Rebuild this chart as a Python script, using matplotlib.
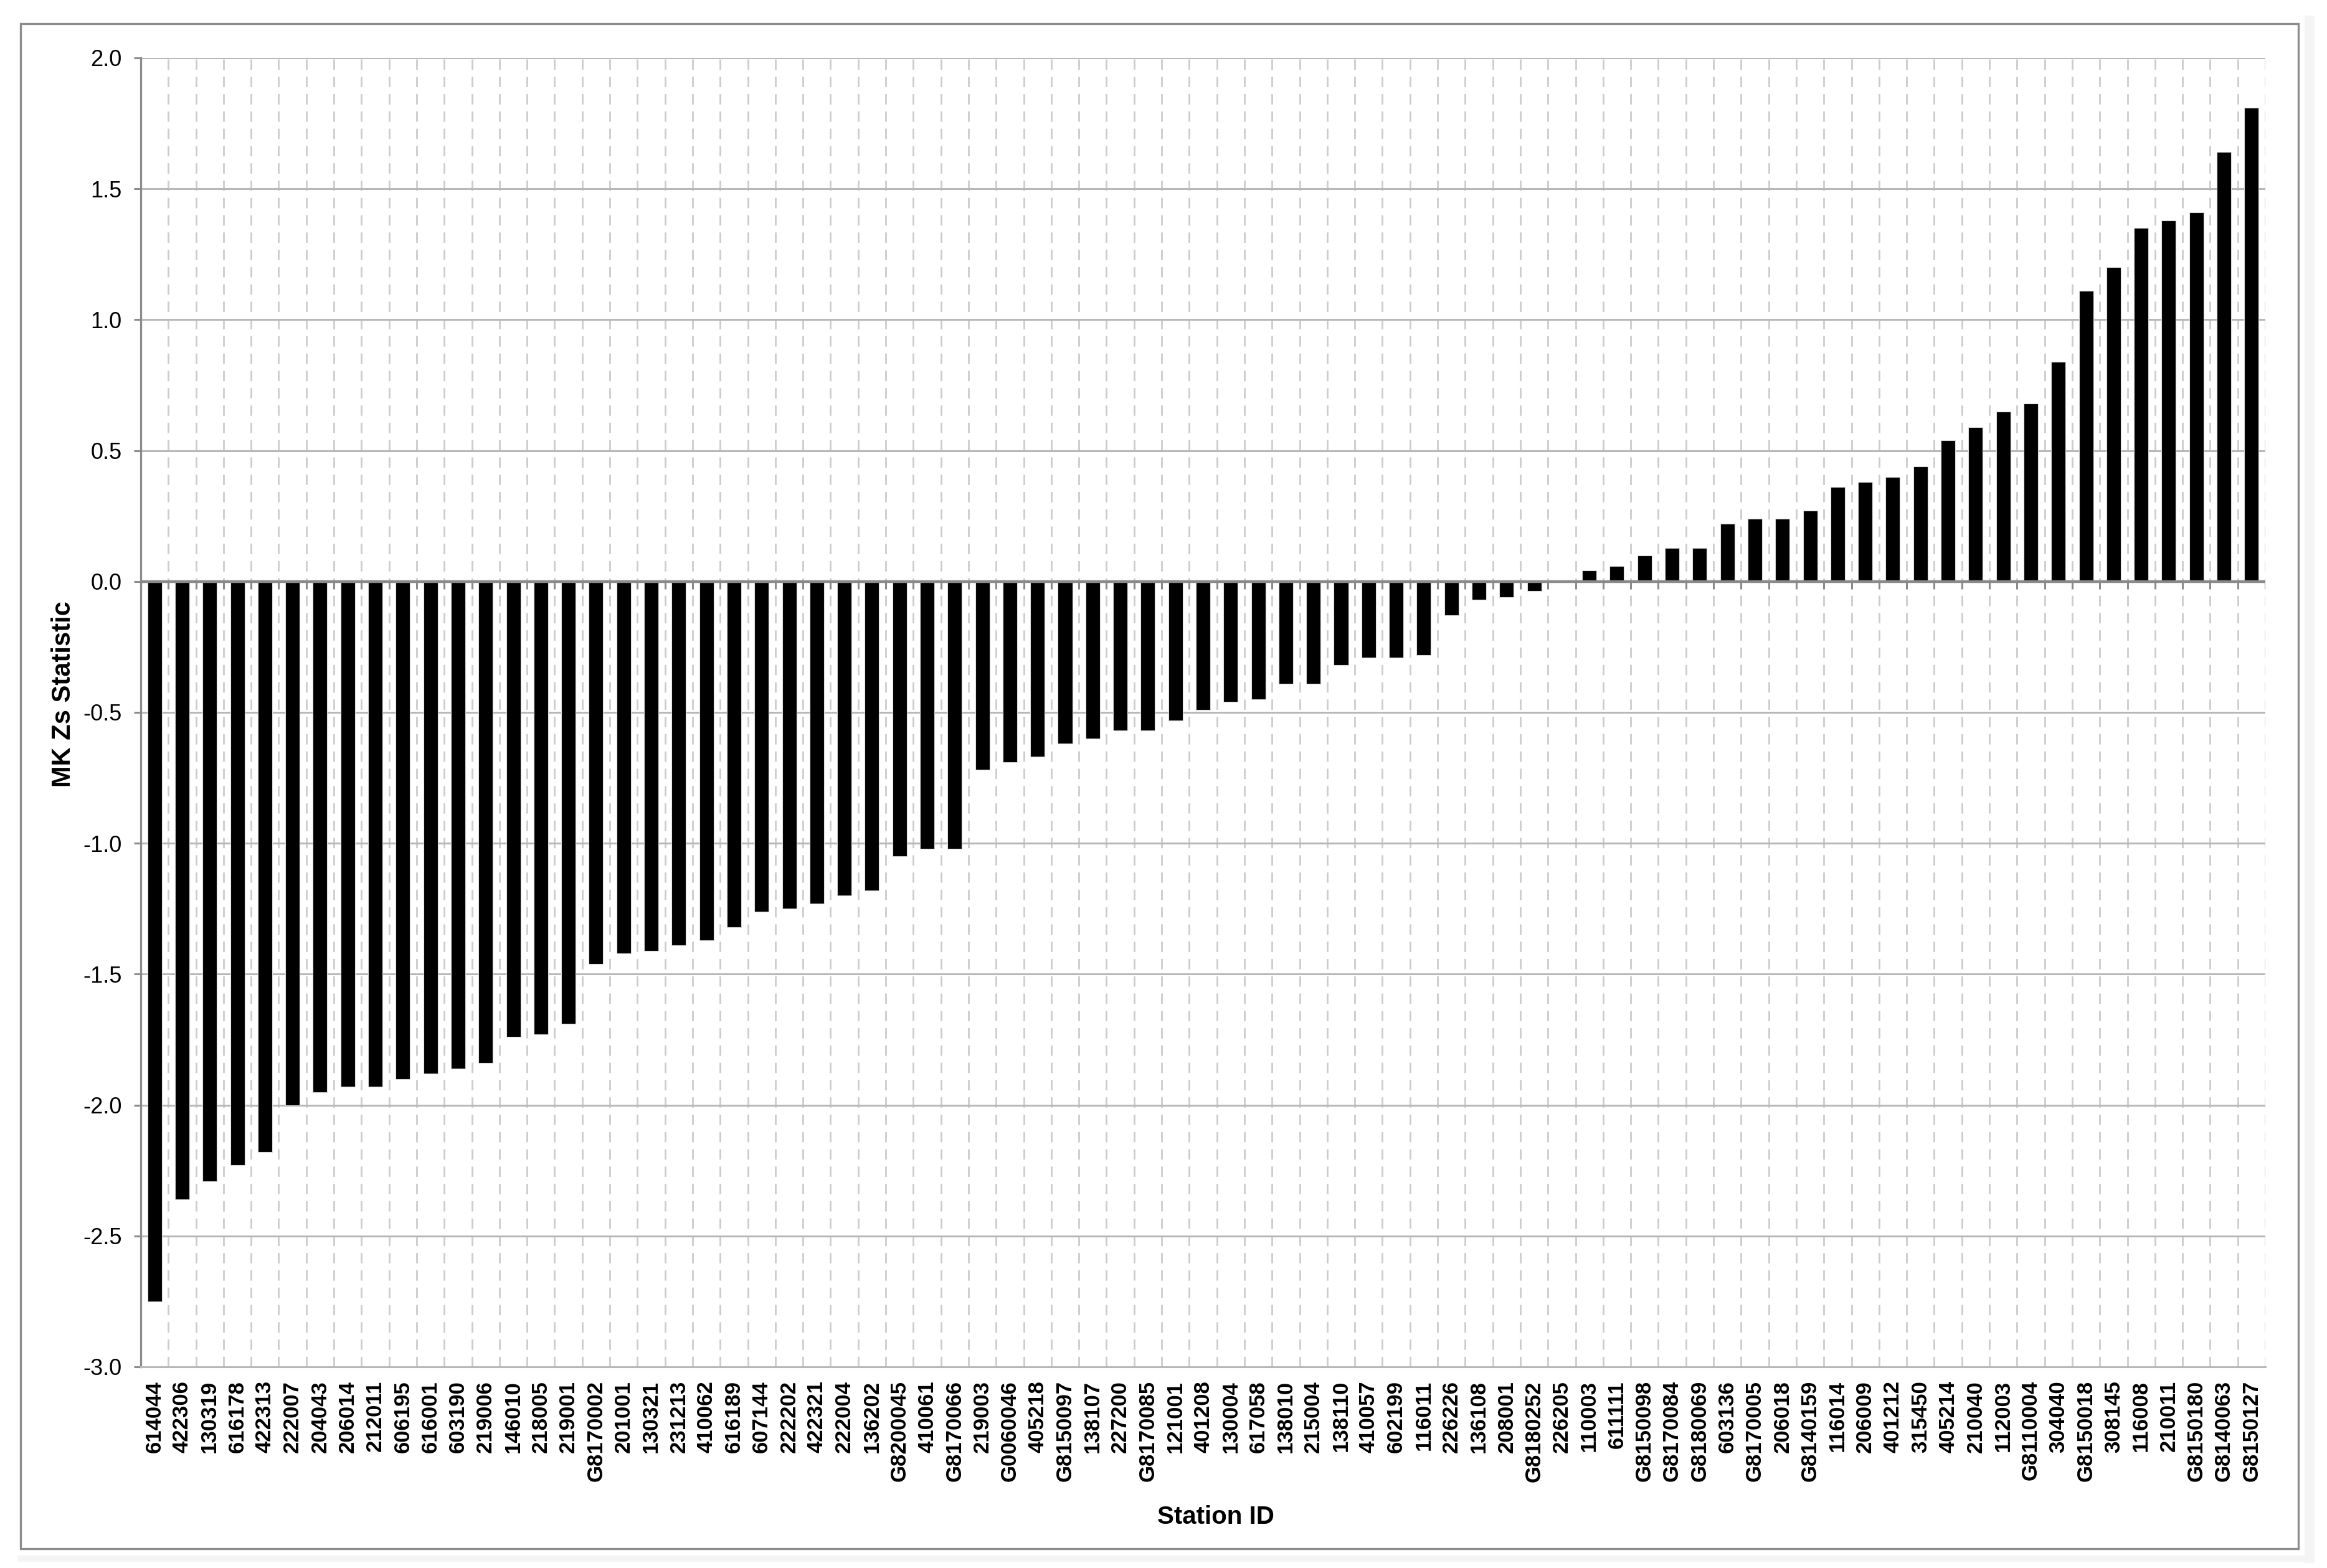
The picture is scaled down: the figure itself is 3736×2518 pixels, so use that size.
import numpy as np
import matplotlib
matplotlib.use("Agg")
import matplotlib.pyplot as plt
from matplotlib.patches import Rectangle

plt.rcParams["font.family"] = ["Liberation Sans", "DejaVu Sans"]

# station IDs, sorted by MK Zs statistic
stations = ["614044", "422306", "130319", "616178", "422313", "222007", "204043",
            "206014", "212011", "606195", "616001", "603190", "219006", "146010",
            "218005", "219001", "G8170002", "201001", "130321", "231213", "410062",
            "616189", "607144", "222202", "422321", "222004", "136202", "G8200045",
            "410061", "G8170066", "219003", "G0060046", "405218", "G8150097", "138107",
            "227200", "G8170085", "121001", "401208", "130004", "617058", "138010",
            "215004", "138110", "410057", "602199", "116011", "226226", "136108",
            "208001", "G8180252", "226205", "110003", "611111", "G8150098", "G8170084",
            "G8180069", "603136", "G8170005", "206018", "G8140159", "116014", "206009",
            "401212", "315450", "405214", "210040", "112003", "G8110004", "304040",
            "G8150018", "308145", "116008", "210011", "G8150180", "G8140063", "G8150127"]

zs = [-2.75, -2.36, -2.29, -2.23, -2.18, -2.00, -1.95,
      -1.93, -1.93, -1.90, -1.88, -1.86, -1.84, -1.74,
      -1.73, -1.69, -1.46, -1.42, -1.41, -1.39, -1.37,
      -1.32, -1.26, -1.25, -1.23, -1.20, -1.18, -1.05,
      -1.02, -1.02, -0.72, -0.69, -0.67, -0.62, -0.60,
      -0.57, -0.57, -0.53, -0.49, -0.46, -0.45, -0.39,
      -0.39, -0.32, -0.29, -0.29, -0.28, -0.13, -0.07,
      -0.06, -0.036, 0.0, 0.042, 0.059, 0.10, 0.128,
      0.128, 0.22, 0.24, 0.24, 0.27, 0.36, 0.38,
      0.40, 0.44, 0.54, 0.59, 0.65, 0.68, 0.84,
      1.11, 1.20, 1.35, 1.38, 1.41, 1.64, 1.81]

yticks = [-3.0, -2.5, -2.0, -1.5, -1.0, -0.5, 0.0, 0.5, 1.0, 1.5, 2.0]

W, H = 3736, 2518
fig = plt.figure(figsize=(W / 200, H / 200), dpi=200)

# outer chart border + faint shadow like the excel export
fig.patches.append(Rectangle((3700 / W, 1 - 2510 / H), 16 / W, 2485 / H,
                             transform=fig.transFigure, facecolor="#f4f4f4",
                             edgecolor="none", zorder=-3))
fig.patches.append(Rectangle((28 / W, 1 - 2508 / H), 3688 / W, 10 / H,
                             transform=fig.transFigure, facecolor="#f4f4f4",
                             edgecolor="none", zorder=-3))
fig.patches.append(Rectangle((33 / W, 1 - 2487 / H), 3657 / W, 2449 / H,
                             transform=fig.transFigure, facecolor="white",
                             edgecolor="#8c8c8c", linewidth=1.2, zorder=-2))

ax = fig.add_axes([226 / W, 1 - 2195 / H, 3411 / W, 2102 / H])
ax.set_facecolor("none")

x = np.arange(len(stations))
ax.bar(x, zs, width=0.52, color="black", edgecolor="#d8d8d8", linewidth=0.4, zorder=3)

ax.set_xlim(-0.5, len(stations) - 0.5)
ax.set_ylim(-3.0, 2.0)
ax.set_yticks(yticks)
ax.set_yticklabels(["%.1f" % v for v in yticks], fontsize=13)

ax.set_xticks(x)
ax.set_xticklabels(stations, rotation=90, fontsize=12.5, fontweight="bold")
bounds = np.arange(len(stations) + 1) - 0.5
ax.set_xticks(bounds, minor=True)
ax.tick_params(axis="x", which="both", length=0, pad=8)
ax.tick_params(axis="y", length=4, width=1.1, color="#8c8c8c", pad=7)

# grid: solid horizontal, dashed vertical between categories
ax.grid(axis="y", color="#b8b8b8", linewidth=1.1, zorder=1)
ax.grid(axis="x", which="minor", color="#cccccc", linewidth=1.0,
        linestyle=(0, (6, 4)), zorder=1)
ax.grid(axis="x", which="major", visible=False)

# category axis crosses at zero
ax.axhline(0, color="#8a8a8a", linewidth=1.6, zorder=4)
ax.vlines(bounds, -0.03, 0, color="#8a8a8a", linewidth=1.1, zorder=4)

for s in ["top", "right"]:
    ax.spines[s].set_visible(False)
ax.spines["left"].set_color("#8c8c8c")
ax.spines["left"].set_linewidth(1.2)
ax.spines["bottom"].set_color("#b8b8b8")
ax.spines["bottom"].set_linewidth(1.1)

ax.set_ylabel("MK Zs Statistic", fontsize=15, fontweight="bold")
ax.yaxis.set_label_coords(-0.0305, 0.514)
ax.set_xlabel("Station ID", fontsize=14.5, fontweight="bold", va="top")
ax.xaxis.set_label_coords(0.506, -0.1056)

fig.savefig("out.png", dpi=200)
